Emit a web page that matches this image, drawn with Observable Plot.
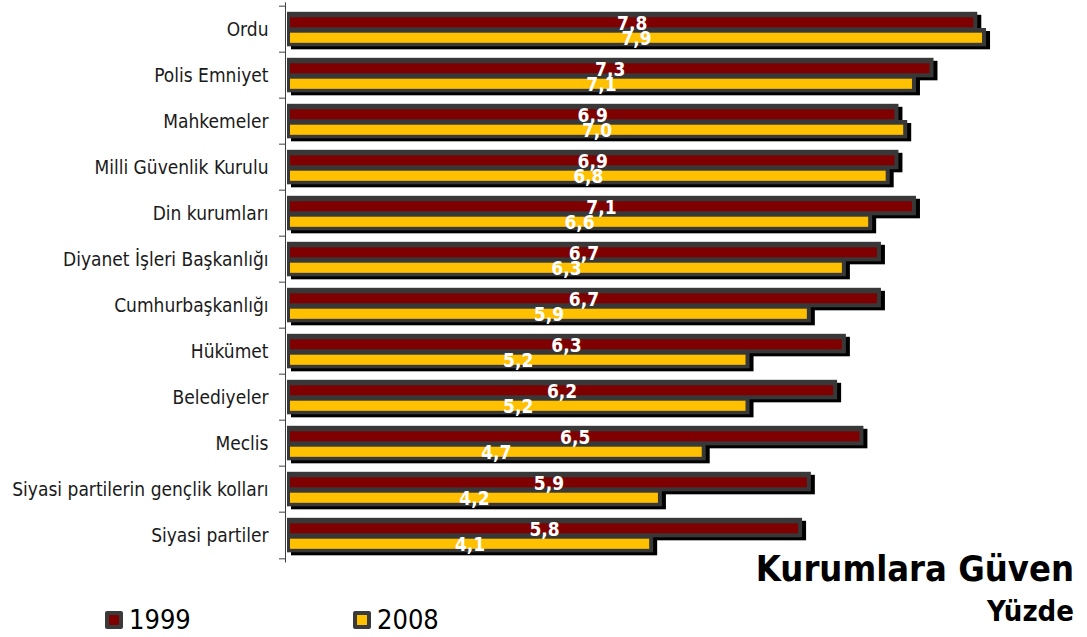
<!DOCTYPE html>
<html><head><meta charset="utf-8">
<script src="https://cdn.jsdelivr.net/npm/d3@7"></script>
<script src="https://cdn.jsdelivr.net/npm/@observablehq/plot@0.6"></script>
<style>
body{margin:0;background:#fff;font-family:"DejaVu Sans Condensed","DejaVu Sans",sans-serif;}
#wrap{position:relative;width:1087px;height:637px;overflow:hidden;}
#title{position:absolute;right:13px;top:551px;font-weight:bold;font-size:36px;line-height:1;color:#000;white-space:nowrap;}
#sub{position:absolute;right:13px;top:597px;font-weight:bold;font-size:29px;line-height:1;color:#000;}
.leg{position:absolute;top:606px;font-size:27px;line-height:1;color:#000;display:flex;align-items:center;}
.sw{display:inline-block;width:10px;height:10px;border:4px solid #3a3a3a;border-radius:2px;margin-right:6px;}
</style></head><body><div id="wrap"></div>
<script>
const categories = ["Ordu","Polis Emniyet","Mahkemeler","Milli Güvenlik Kurulu","Din kurumları","Diyanet İşleri Başkanlığı","Cumhurbaşkanlığı","Hükümet","Belediyeler","Meclis","Siyasi partilerin gençlik kolları","Siyasi partiler"];
const series = ["1999","2008"];
const values1999 = [7.8,7.3,6.9,6.9,7.1,6.7,6.7,6.3,6.2,6.5,5.9,5.8];
const values2008 = [7.9,7.1,7.0,6.8,6.6,6.3,5.9,5.2,5.2,4.7,4.2,4.1];
const seriesColors = ["#7F0000","#FFC000"];
const titleText = "Kurumlara Güven";
const subtitleText = "Yüzde";

const r99 = categories.map((c,i)=>({category:c, series:series[0], value:values1999[i]}));
const r08 = categories.map((c,i)=>({category:c, series:series[1], value:values2008[i]}));
const fmt = v => v.toFixed(1).replace(".", ",");

const H = 570, mTop = 2.3, mBottom = 7.5;
const bw = (H - mTop - mBottom) / categories.length;
const geo99 = {outerT:5.8, outerB:bw-26, innerT:11.3, innerB:bw-22};
const geo08 = {outerT:22, outerB:bw-41, innerT:26.7, innerB:bw-37.5};

function layers(data, g, color) {
  return {
    shadow: Plot.barX(data,{x:"value", y:"category", fill:"#000", insetTop:g.outerT, insetBottom:g.outerB, insetLeft:-3, insetRight:-4, dx:4, dy:3}),
    outer: Plot.barX(data,{x:"value", y:"category", fill:"#383838", insetTop:g.outerT, insetBottom:g.outerB, insetLeft:-3, insetRight:-4}),
    inner: Plot.barX(data,{x:"value", y:"category", fill:color, insetTop:g.innerT, insetBottom:g.innerB})
  };
}
const L99 = layers(r99, geo99, seriesColors[0]);
const L08 = layers(r08, geo08, seriesColors[1]);

const chart = Plot.plot({
  width:1087, height:H,
  marginLeft:290, marginRight:8.6, marginTop:mTop, marginBottom:mBottom,
  style:{fontFamily:'"DejaVu Sans Condensed","DejaVu Sans",sans-serif', fontSize:"19px", color:"#1a1a1a", background:"transparent"},
  x:{domain:[0,9], axis:null},
  y:{domain:categories, padding:0, axis:null},
  marks:[
    L99.shadow, L08.shadow,
    L99.outer, L08.outer,
    L99.inner, L08.inner,
    Plot.ruleX([0],{dx:-5, stroke:"#404040", strokeWidth:1}),
    Plot.axisY({tickSize:6, tickFormat:()=>"", label:null, dy:-bw/2, dx:-5, stroke:"#404040"}),
    Plot.axisY({ticks:[categories[categories.length-1]], tickSize:6, tickFormat:()=>"", label:null, dy:bw/2, dx:-5, stroke:"#404040"}),
    Plot.axisY({tickSize:0, tickPadding:22, fontSize:19, label:null, fill:"#1a1a1a"}),
    Plot.text(r99,{x:d=>d.value/2, y:"category", text:d=>fmt(d.value), dy:-6, fill:"white", fontWeight:"bold", fontSize:19}),
    Plot.text(r08,{x:d=>d.value/2, y:"category", text:d=>fmt(d.value), dy:9.3, fill:"white", fontWeight:"bold", fontSize:19})
  ]
});
const wrap = document.getElementById("wrap");
wrap.appendChild(chart);
const t = document.createElement("div"); t.id="title"; t.textContent=titleText; wrap.appendChild(t);
const s = document.createElement("div"); s.id="sub"; s.textContent=subtitleText; wrap.appendChild(s);
const legLeft = [105, 353];
series.forEach((name,i)=>{
  const d = document.createElement("div"); d.className="leg"; d.style.left = legLeft[i]+"px";
  const sw = document.createElement("span"); sw.className="sw"; sw.style.background = seriesColors[i];
  d.appendChild(sw); d.appendChild(document.createTextNode(name));
  wrap.appendChild(d);
});
</script></body></html>
